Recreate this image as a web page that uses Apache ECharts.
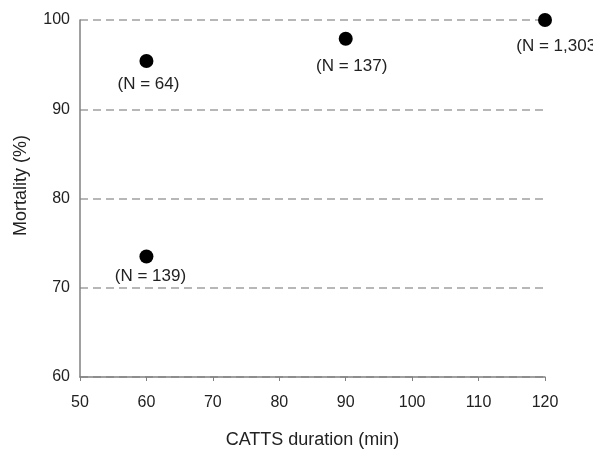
<!DOCTYPE html>
<html>
<head>
<meta charset="utf-8">
<script src="https://cdn.jsdelivr.net/npm/echarts@6/dist/echarts.min.js"></script>
<style>
  html, body { margin: 0; padding: 0; background: #fff; }
  #chart { width: 593px; height: 454px; }
</style>
</head>
<body>
<div id="chart"></div>
<script>
// CATTS duration vs mortality
const durations = [60, 90, 120, 60];
const mortality = [95.4, 97.9, 100, 73.5];
const sampleLabels = ['(N = 64)', '(N = 137)', '(N = 1,303)', '(N = 139)'];
const labelOffsets = [[2, 4], [6, 8], [14, 7], [4, 0]];

const chart = echarts.init(document.getElementById('chart'));

const points = durations.map((d, i) => ({
  value: [d, mortality[i]],
  label: { offset: labelOffsets[i] }
}));

const font = 'Liberation Sans, Arial, sans-serif';

const option = {
  animation: false,
  grid: { left: 80, right: 48, top: 20, bottom: 77 },
  xAxis: {
    type: 'value',
    min: 50,
    max: 120,
    interval: 10,
    name: 'CATTS duration (min)',
    nameLocation: 'middle',
    nameGap: 54,
    nameTextStyle: { fontFamily: font, fontSize: 18, color: '#222' },
    axisLine: { show: true, lineStyle: { color: '#808080', width: 1.5 } },
    axisTick: { show: true, inside: false, length: 4, lineStyle: { color: '#808080' } },
    axisLabel: { fontFamily: font, fontSize: 16, color: '#222', margin: 18 },
    splitLine: { show: false }
  },
  yAxis: {
    type: 'value',
    min: 60,
    max: 100,
    interval: 10,
    name: 'Mortality (%)',
    nameLocation: 'middle',
    nameGap: 50,
    nameTextStyle: { fontFamily: font, fontSize: 18, color: '#222', padding: [0, 0, 0, 26] },
    axisLine: { show: true, lineStyle: { color: '#808080', width: 1.5 } },
    axisTick: { show: false },
    axisLabel: { fontFamily: font, fontSize: 16, color: '#222', margin: 10 },
    splitLine: { show: true, lineStyle: { color: '#a0a0a0', type: [8, 5], width: 1.5 } }
  },
  series: [{
    type: 'scatter',
    symbolSize: 14,
    itemStyle: { color: '#000', opacity: 1 },
    data: points,
    clip: false,
    label: {
      show: true,
      position: 'bottom',
      distance: 4,
      fontFamily: font,
      fontSize: 17,
      color: '#222',
      formatter: p => sampleLabels[p.dataIndex]
    }
  }]
};

chart.setOption(option);
</script>
</body>
</html>
